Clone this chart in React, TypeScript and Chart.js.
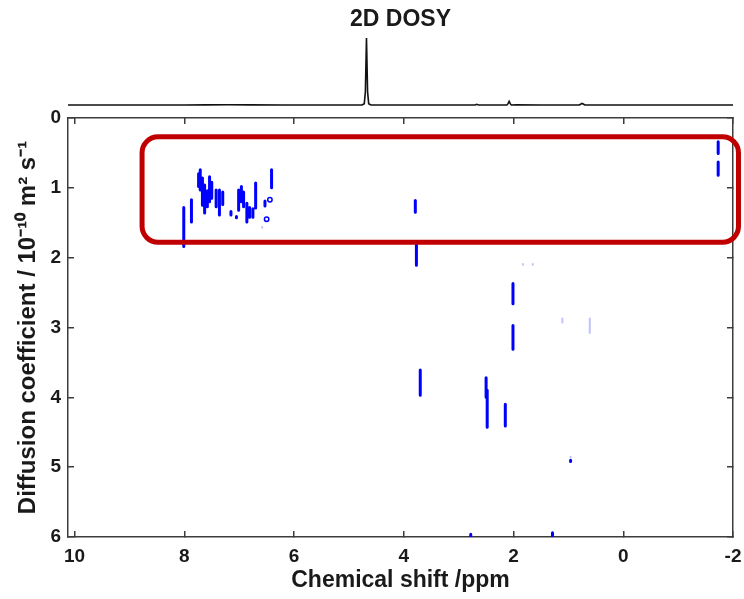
import React, { useEffect, useRef } from 'react';
import { Chart, registerables } from 'chart.js';

Chart.register(...registerables);

const FONT = '"Liberation Sans", Arial, Helvetica, sans-serif';
const INK = '#1a1a1a';
const FRAME = '#3c3c3c';
const PEAK_BLUE = '#0000ff';

// Axis ranges (chemical shift runs right-to-left, diffusion top-to-bottom)
const SHIFT_MIN = -2;
const SHIFT_MAX = 10.12;
const SHIFT_TICKS = [10, 8, 6, 4, 2, 0, -2];
const DIFF_MIN = 0;
const DIFF_MAX = 6;
const DIFF_TICKS = [0, 1, 2, 3, 4, 5, 6];

// 1D 1H projection shown above the DOSY map
const SPEC_PPM = [10.12, 9.0, 8.0, 7.6, 7.2, 6.8, 6.2, 5.5, 4.76, 4.72, 4.7, 4.68, 4.66, 4.64, 4.6, 3.8, 3.2, 2.7, 2.67, 2.64, 2.12, 2.1, 2.08, 2.06, 2.04, 1.95, 1.5, 0.8, 0.77, 0.75, 0.73, 0.7, 0, -2];
const SPEC_INT = [0, 0, 0.001, 0.002, 0.003, 0.002, 0.001, 0, 0, 0.02, 0.2, 1.0, 0.2, 0.02, 0, 0.001, 0, 0, 0.01, 0, 0, 0.02, 0.055, 0.02, 0, 0.003, 0.001, 0, 0.015, 0.025, 0.015, 0, 0, 0];

// DOSY cross-peaks: chemical shift (ppm) and diffusion extent (10^-10 m^2 s^-1)
const PEAK_PPM = [8.01, 7.87, 7.74, 7.71, 7.67, 7.63, 7.58, 7.54, 7.5, 7.42, 7.36, 7.3, 7.15, 7.05, 7.01, 6.96, 6.92, 6.86, 6.81, 6.75, 6.7, 6.53, 6.41, 3.79, 3.77, 3.7, 2.01, 2.01, 2.5, 2.48, 2.15, 0.96, 2.78, 1.29, -1.73, -1.73];
const PEAK_D_START = [1.28, 1.17, 0.8, 0.74, 0.86, 0.96, 1.04, 0.84, 0.92, 1.03, 1.03, 1.06, 1.34, 1.41, 1.03, 0.98, 1.06, 1.22, 1.28, 1.3, 0.93, 1.19, 0.74, 1.18, 1.82, 3.61, 2.37, 2.97, 3.72, 3.9, 4.1, 4.9, 5.96, 5.94, 0.34, 0.63];
const PEAK_D_END = [1.84, 1.49, 0.98, 1.03, 1.25, 1.36, 1.27, 1.2, 1.15, 1.27, 1.39, 1.24, 1.39, 1.43, 1.32, 1.2, 1.27, 1.49, 1.42, 1.42, 1.29, 1.26, 1.0, 1.35, 2.11, 3.97, 2.66, 3.31, 4.0, 4.43, 4.41, 4.92, 6.0, 6.0, 0.51, 0.82];

// Weak cross-peaks near the noise floor
const FAINT_PPM = [1.83, 1.65, 1.11, 0.61, 0.96, 6.58];
const FAINT_D_START = [2.09, 2.09, 2.87, 2.87, 4.85, 1.56];
const FAINT_D_END = [2.1, 2.1, 2.93, 3.08, 4.86, 1.57];

// Small closed contours
const RING_PPM = [6.44, 6.5];
const RING_D = [1.17, 1.45];

// Highlighted region (ppm from / to, diffusion from / to)
const BOX_PPM = [8.77, -2.1];
const BOX_D = [0.27, 1.78];

type Pt = { x: number; y: number | null };

function segments(ppm: number[], start: number[], end: number[]): Pt[] {
  const pts: Pt[] = [];
  ppm.forEach((x, i) => {
    pts.push({ x, y: start[i] }, { x, y: end[i] }, { x, y: null });
  });
  return pts;
}

const tickFont = { family: FONT, size: 19, weight: 'bold' as const };
const titleFont = { family: FONT, size: 23, weight: 'bold' as const };
const yTitleFont = { family: FONT, size: 24, weight: 'bold' as const };

const frameGrid = {
  drawOnChartArea: false,
  drawTicks: true,
  tickLength: -6,
  color: FRAME,
  lineWidth: 1.5,
};
const frameBorder = { display: true, color: FRAME, width: 1.5 };

const highlightBox = {
  id: 'highlightBox',
  afterDraw(chart: any) {
    const { ctx, scales } = chart;
    const xa = scales.x.getPixelForValue(BOX_PPM[0]);
    const xb = scales.x.getPixelForValue(BOX_PPM[1]);
    const ya = scales.y.getPixelForValue(BOX_D[0]);
    const yb = scales.y.getPixelForValue(BOX_D[1]);
    const left = Math.min(xa, xb);
    const top = Math.min(ya, yb);
    const w = Math.abs(xb - xa);
    const h = Math.abs(yb - ya);
    const r = 16;
    ctx.save();
    ctx.strokeStyle = '#c00000';
    ctx.lineWidth = 5;
    ctx.beginPath();
    ctx.moveTo(left + r, top);
    ctx.arcTo(left + w, top, left + w, top + h, r);
    ctx.arcTo(left + w, top + h, left, top + h, r);
    ctx.arcTo(left, top + h, left, top, r);
    ctx.arcTo(left, top, left + w, top, r);
    ctx.closePath();
    ctx.stroke();
    ctx.restore();
  },
};

const shiftTicks = (s: any) => {
  s.ticks = SHIFT_TICKS.map((v) => ({ value: v }));
};
const diffTicks = (s: any) => {
  s.ticks = DIFF_TICKS.map((v) => ({ value: v }));
};
const noSidePadding = (s: any) => {
  s.paddingLeft = 0;
  s.paddingRight = 0;
};

export default function App() {
  const specRef = useRef<HTMLCanvasElement>(null);
  const mapRef = useRef<HTMLCanvasElement>(null);

  useEffect(() => {
    if (!specRef.current || !mapRef.current) return;

    const mapChart = new Chart(mapRef.current, {
      type: 'line',
      data: {
        datasets: [
          {
            label: 'peaks',
            data: segments(PEAK_PPM, PEAK_D_START, PEAK_D_END),
            borderColor: PEAK_BLUE,
            borderWidth: 3,
            borderCapStyle: 'round',
            pointRadius: 0,
            spanGaps: false,
          },
          {
            label: 'weak peaks',
            data: segments(FAINT_PPM, FAINT_D_START, FAINT_D_END),
            borderColor: 'rgba(80, 80, 255, 0.35)',
            borderWidth: 2,
            borderCapStyle: 'round',
            pointRadius: 0,
            spanGaps: false,
          },
          {
            type: 'scatter',
            label: 'contours',
            data: RING_PPM.map((x, i) => ({ x, y: RING_D[i] })),
            showLine: false,
            pointStyle: 'circle',
            pointRadius: 2.2,
            pointBorderWidth: 1.5,
            pointBorderColor: PEAK_BLUE,
            pointBackgroundColor: '#ffffff',
          } as any,
        ],
      },
      options: {
        responsive: false,
        animation: false,
        devicePixelRatio: 1,
        layout: { padding: { top: 118, left: 0, right: 0, bottom: 0 } },
        plugins: { legend: { display: false }, tooltip: { enabled: false }, title: { display: false } },
        scales: {
          x: {
            type: 'linear',
            position: 'bottom',
            reverse: true,
            min: SHIFT_MIN,
            max: SHIFT_MAX,
            afterBuildTicks: shiftTicks,
            afterFit: (s: any) => {
              s.height = 62;
              noSidePadding(s);
            },
            ticks: {
              font: tickFont,
              color: INK,
              padding: 14,
              maxRotation: 0,
              autoSkip: false,
              callback: (v: any) => String(v),
            },
            grid: frameGrid,
            border: frameBorder,
            title: {
              display: true,
              text: 'Chemical shift /ppm',
              font: titleFont,
              color: INK,
              padding: { top: 0, bottom: 5 },
            },
          },
          xTop: {
            type: 'linear',
            position: 'top',
            reverse: true,
            min: SHIFT_MIN,
            max: SHIFT_MAX,
            afterBuildTicks: shiftTicks,
            afterFit: (s: any) => {
              s.height = 0;
              noSidePadding(s);
            },
            ticks: { display: false },
            grid: frameGrid,
            border: frameBorder,
          },
          y: {
            type: 'linear',
            position: 'left',
            reverse: true,
            min: DIFF_MIN,
            max: DIFF_MAX,
            afterBuildTicks: diffTicks,
            afterFit: (s: any) => {
              s.width = 68;
            },
            ticks: {
              font: tickFont,
              color: INK,
              padding: 13,
              autoSkip: false,
              callback: (v: any) => String(v),
            },
            grid: frameGrid,
            border: frameBorder,
            title: {
              display: true,
              text: 'Diffusion coefficient / 10⁻¹⁰ m² s⁻¹',
              font: yTitleFont,
              color: INK,
              padding: { top: 14, bottom: 0 },
            },
          },
          yRight: {
            type: 'linear',
            position: 'right',
            reverse: true,
            min: DIFF_MIN,
            max: DIFF_MAX,
            afterBuildTicks: diffTicks,
            afterFit: (s: any) => {
              s.width = 11;
            },
            ticks: { display: false },
            grid: frameGrid,
            border: frameBorder,
          },
        },
      } as any,
      plugins: [highlightBox],
    });

    const specChart = new Chart(specRef.current, {
      type: 'line',
      data: {
        datasets: [
          {
            label: '1H',
            data: SPEC_PPM.map((x, i) => ({ x, y: SPEC_INT[i] })),
            borderColor: '#111111',
            borderWidth: 1.6,
            pointRadius: 0,
            tension: 0,
            clip: false,
          } as any,
        ],
      },
      options: {
        responsive: false,
        animation: false,
        devicePixelRatio: 1,
        layout: { padding: { top: 0, left: 68, right: 11, bottom: 481 } },
        plugins: {
          legend: { display: false },
          tooltip: { enabled: false },
          title: {
            display: true,
            text: '2D DOSY',
            fullSize: false,
            font: titleFont,
            color: INK,
            padding: { top: 6, bottom: 4.4 },
          },
        },
        scales: {
          x: { type: 'linear', reverse: true, min: SHIFT_MIN, max: SHIFT_MAX, display: false },
          y: { type: 'linear', min: -0.194, max: 1, display: false },
        },
      } as any,
    });

    return () => {
      mapChart.destroy();
      specChart.destroy();
    };
  }, []);

  const layer: React.CSSProperties = { position: 'absolute', left: 0, top: 0 };
  return (
    <div style={{ position: 'fixed', left: 0, top: 0, width: 744, height: 599, background: '#ffffff' }}>
      <canvas ref={mapRef} width={744} height={599} style={layer} />
      <canvas ref={specRef} width={744} height={599} style={layer} />
    </div>
  );
}
